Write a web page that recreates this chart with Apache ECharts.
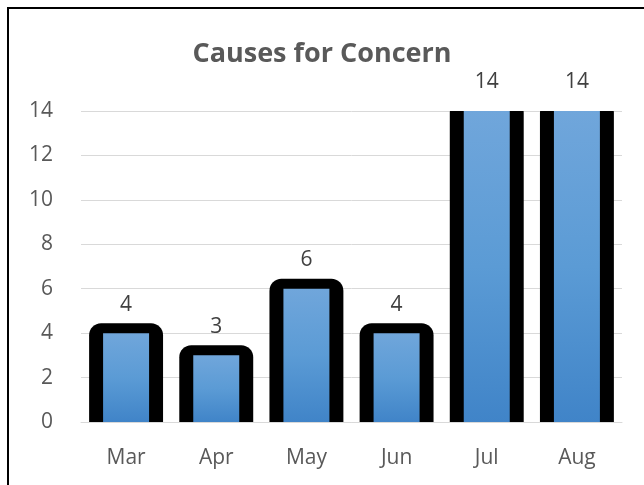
<!DOCTYPE html>
<html>
<head>
<meta charset="utf-8">
<script src="https://cdn.jsdelivr.net/npm/echarts@6/dist/echarts.min.js"></script>
<style>
  html, body { margin: 0; padding: 0; background: #fff; }
  #chart { width: 644px; height: 485px; }
</style>
</head>
<body>
<div id="chart"></div>
<script>
  // data
  var months = ['Mar', 'Apr', 'May', 'Jun', 'Jul', 'Aug'];
  var counts = [4, 3, 6, 4, 14, 14];
  var yTicks = [0, 2, 4, 6, 8, 10, 12, 14];

  var myChart = echarts.init(document.getElementById('chart'));

  // thick black outline behind each bar, clipped to the plot area
  function renderOutline(params, api) {
    var top = api.coord([api.value(0), api.value(1)]);
    var base = api.coord([api.value(0), 0]);
    var band = api.size([1, 0])[0];
    var w = band * 0.82;
    return {
      type: 'rect',
      shape: { x: top[0] - w / 2, y: top[1] - 10, width: w, height: base[1] - top[1] + 10, r: [12, 12, 0, 0] },
      style: { fill: '#000' }
    };
  }

  myChart.setOption({
    backgroundColor: '#fff',
    textStyle: { fontFamily: 'Open Sans' },
    title: {
      text: 'Causes for Concern',
      left: 'center',
      top: 36,
      textStyle: { color: '#595959', fontSize: 27, fontWeight: 'bold', fontFamily: 'Open Sans' }
    },
    grid: { left: 81, right: 22, top: 111, bottom: 63 },
    xAxis: {
      type: 'category',
      data: months,
      axisLine: { lineStyle: { color: '#d9d9d9' } },
      axisTick: { show: false },
      axisLabel: { color: '#595959', fontSize: 21, margin: 26 }
    },
    yAxis: {
      type: 'value',
      min: yTicks[0],
      max: yTicks[yTicks.length - 1],
      interval: 2,
      axisLine: { show: false },
      axisTick: { show: false },
      splitLine: { lineStyle: { color: '#d9d9d9' } },
      axisLabel: { color: '#595959', fontSize: 21, margin: 28 }
    },
    graphic: [{
      type: 'rect',
      shape: { x: 8, y: 8, width: 700, height: 600 },
      style: { fill: 'none', stroke: '#000', lineWidth: 2 },
      silent: true
    }],
    series: [
      {
        type: 'custom',
        renderItem: renderOutline,
        clip: true,
        z: 1,
        encode: { x: 0, y: 1 },
        data: counts.map(function (v, i) { return [i, v]; })
      },
      {
        type: 'bar',
        data: counts,
        barWidth: '51%',
        z: 3,
        itemStyle: {
          color: new echarts.graphic.LinearGradient(0, 0, 0, 1, [
            { offset: 0, color: '#70a6db' },
            { offset: 0.5, color: '#5b9bd5' },
            { offset: 1, color: '#4084c8' }
          ])
        },
        label: {
          show: true,
          position: 'top',
          distance: 18,
          color: '#404040',
          fontSize: 21
        }
      }
    ]
  });
</script>
</body>
</html>
